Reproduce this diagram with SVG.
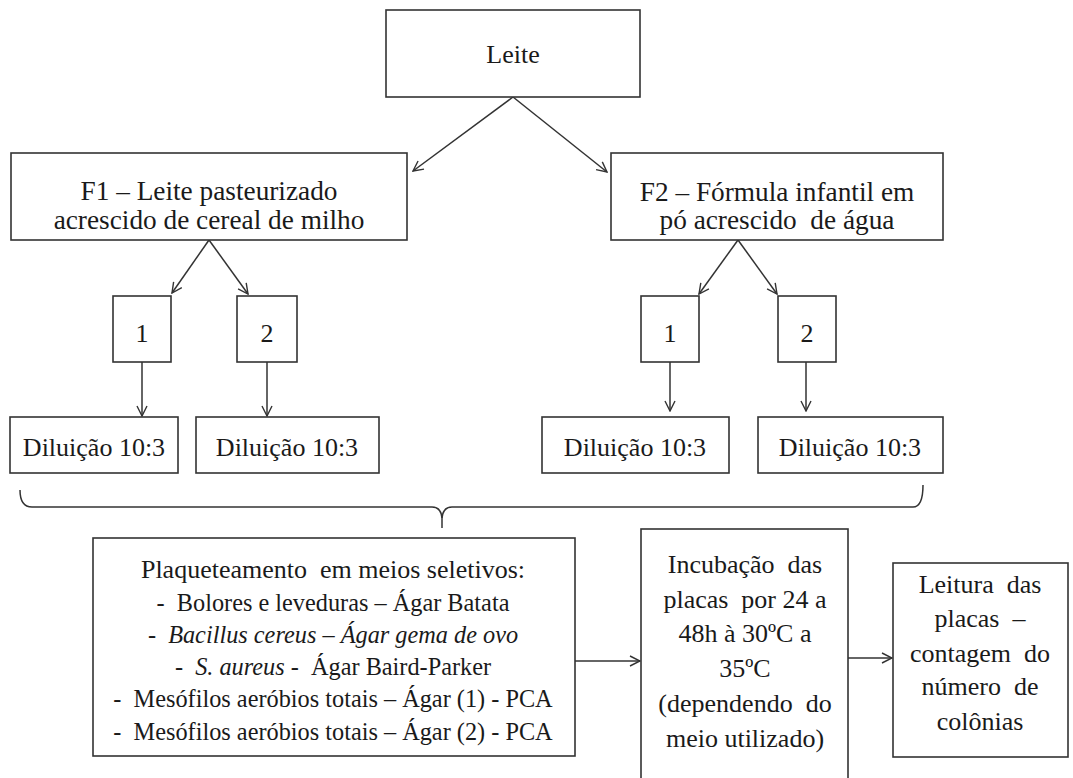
<svg xmlns="http://www.w3.org/2000/svg" width="1073" height="778" viewBox="0 0 1073 778">
<defs>
<style>
.box{fill:#fff;stroke:#333;stroke-width:1.6}
.t{font-size:26px;fill:#1a1a1a;text-anchor:middle;white-space:pre}
.s{font-size:24.3px}
.f{font-size:27.3px}
.c{fill:none;stroke:#333;stroke-width:1.5}
</style>
<marker id="ah" viewBox="0 0 12 12" refX="11" refY="6" markerWidth="12" markerHeight="12" markerUnits="userSpaceOnUse" orient="auto">
<polyline points="1,1 11,6 1,11" fill="none" stroke="#333" stroke-width="1.4"/>
</marker>
</defs>
<rect width="1073" height="778" fill="#fff"/>
<g id="connectors">
<line class="c" x1="513" y1="97" x2="413" y2="171" marker-end="url(#ah)"/>
<line class="c" x1="513" y1="97" x2="607" y2="172" marker-end="url(#ah)"/>
<line class="c" x1="209" y1="240" x2="172" y2="293" marker-end="url(#ah)"/>
<line class="c" x1="209" y1="240" x2="248" y2="294" marker-end="url(#ah)"/>
<line class="c" x1="738" y1="240" x2="699" y2="294" marker-end="url(#ah)"/>
<line class="c" x1="738" y1="240" x2="777" y2="294" marker-end="url(#ah)"/>
<line class="c" x1="142" y1="362" x2="142" y2="416" marker-end="url(#ah)"/>
<line class="c" x1="267" y1="362" x2="267" y2="416" marker-end="url(#ah)"/>
<line class="c" x1="670" y1="362" x2="670" y2="411" marker-end="url(#ah)"/>
<line class="c" x1="806" y1="362" x2="806" y2="411" marker-end="url(#ah)"/>
<path class="c" d="M20,490 Q20,507 32,507 L432,507 Q441,507 442,518 Q443,507 452,507 L913,507 Q923,507 923,485"/>
<line class="c" x1="442" y1="516" x2="442" y2="528"/>
<line class="c" x1="575" y1="661" x2="640" y2="661" marker-end="url(#ah)"/>
<line class="c" x1="848" y1="658" x2="892" y2="658" marker-end="url(#ah)"/>
</g>
<g font-family="'Liberation Serif', 'Times New Roman', serif">
<g id="leite">
<rect class="box" x="386" y="10" width="254" height="87"/>
<text class="t" x="513" y="63">Leite</text>
</g>
<g id="f1">
<rect class="box" x="11" y="153" width="396" height="87"/>
<text class="t f" x="209" y="200">F1 – Leite pasteurizado</text>
<text class="t f" x="209" y="229">acrescido de cereal de milho</text>
</g>
<g id="f2">
<rect class="box" x="611" y="153" width="332" height="87"/>
<text class="t f" x="777" y="201">F2 – Fórmula infantil em</text>
<text class="t f" x="777" y="229">pó acrescido  de água</text>
</g>
<g id="f1-1">
<rect class="box" x="113" y="296" width="58" height="66"/>
<text class="t" x="142" y="342">1</text>
</g>
<g id="f1-2">
<rect class="box" x="237" y="296" width="60" height="66"/>
<text class="t" x="267" y="342">2</text>
</g>
<g id="f2-1">
<rect class="box" x="641" y="296" width="58" height="66"/>
<text class="t" x="670" y="342">1</text>
</g>
<g id="f2-2">
<rect class="box" x="778" y="296" width="58" height="66"/>
<text class="t" x="807" y="342">2</text>
</g>
<g id="dil1">
<rect class="box" x="10" y="417" width="168" height="56"/>
<text class="t" x="94" y="456">Diluição 10:3</text>
</g>
<g id="dil2">
<rect class="box" x="196" y="417" width="183" height="56"/>
<text class="t" x="287" y="456">Diluição 10:3</text>
</g>
<g id="dil3">
<rect class="box" x="542" y="417" width="187" height="56"/>
<text class="t" x="635" y="456">Diluição 10:3</text>
</g>
<g id="dil4">
<rect class="box" x="758" y="417" width="185" height="56"/>
<text class="t" x="850" y="456">Diluição 10:3</text>
</g>
<g id="plaqueteamento">
<rect class="box" x="93" y="538" width="482" height="218"/>
<text class="t" x="333" y="578" font-size="25">Plaqueteamento  em meios seletivos:</text>
<text class="t s" x="333" y="611">-  Bolores e leveduras – Ágar Batata</text>
<text class="t s" x="333" y="643" font-style="italic">-  Bacillus cereus – Ágar gema de ovo</text>
<text class="t s" x="333" y="675">-  <tspan font-style="italic">S. aureus</tspan> -  Ágar Baird-Parker</text>
<text class="t s" x="333" y="707">-  Mesófilos aeróbios totais – Ágar (1) - PCA</text>
<text class="t s" x="333" y="740">-  Mesófilos aeróbios totais – Ágar (2) - PCA</text>
</g>
<g id="incubacao">
<rect class="box" x="641" y="529" width="207" height="260"/>
<text class="t" x="745" y="573">Incubação  das</text>
<text class="t" x="745" y="608">placas  por 24 a</text>
<text class="t" x="745" y="642">48h à 30ºC a</text>
<text class="t" x="745" y="677">35ºC</text>
<text class="t" x="745" y="712">(dependendo  do</text>
<text class="t" x="745" y="747">meio utilizado)</text>
</g>
<g id="leitura">
<rect class="box" x="893" y="563" width="175" height="194"/>
<text class="t" x="980" y="593">Leitura  das</text>
<text class="t" x="980" y="627">placas  –</text>
<text class="t" x="980" y="662">contagem  do</text>
<text class="t" x="980" y="695">número  de</text>
<text class="t" x="980" y="730">colônias</text>
</g>
</g>
</svg>
